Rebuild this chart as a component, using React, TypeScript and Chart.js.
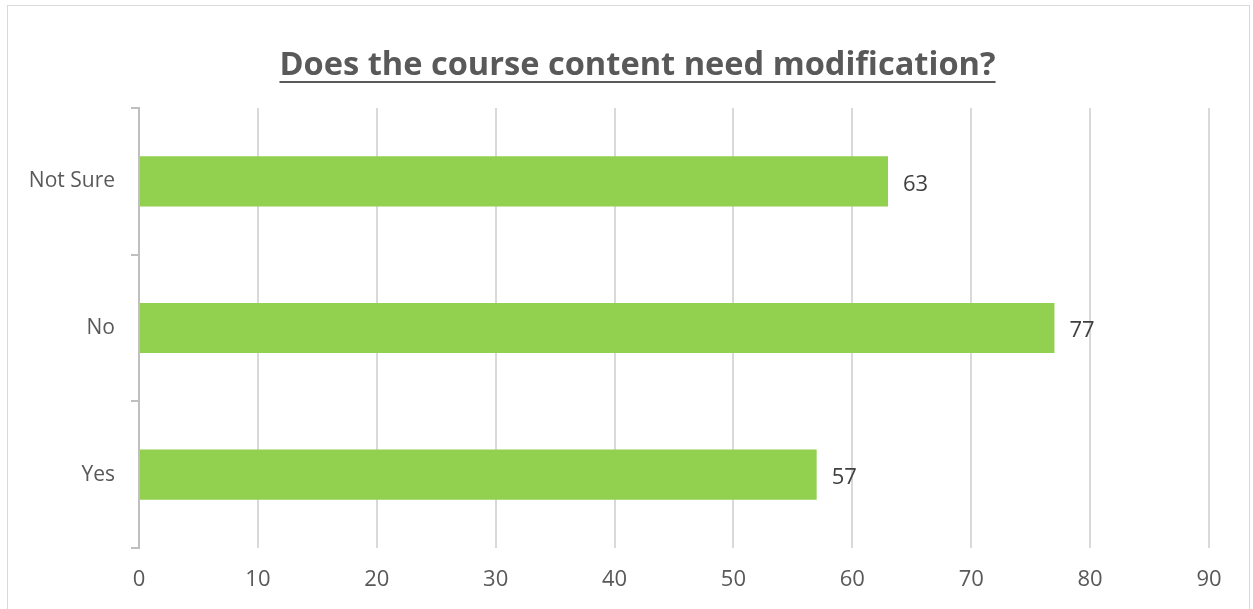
import React, { useEffect, useRef } from "react";
import { Chart, registerables } from "chart.js";

Chart.register(...registerables);

const TITLE = "Does the course content need modification?";
const CATEGORIES = ["Not Sure", "No", "Yes"];
const VALUES = [63, 77, 57];
const X_MIN = 0;
const X_MAX = 90;
const X_STEP = 10;

const FONT = "'Open Sans', 'Noto Sans', sans-serif";
const TEXT_COLOR = "#595959";

const titlePlugin = {
  id: "underlinedTitle",
  afterDraw(chart: any) {
    const ctx = chart.ctx;
    ctx.save();
    ctx.font = `bold 32.6px ${FONT}`;
    ctx.fillStyle = TEXT_COLOR;
    ctx.textAlign = "center";
    ctx.textBaseline = "alphabetic";
    const cx = chart.width / 2 + 9;
    const baseline = 69;
    ctx.fillText(TITLE, cx, baseline);
    const w = ctx.measureText(TITLE).width;
    ctx.strokeStyle = TEXT_COLOR;
    ctx.lineWidth = 2;
    ctx.beginPath();
    ctx.moveTo(cx - w / 2, baseline + 7);
    ctx.lineTo(cx + w / 2, baseline + 7);
    ctx.stroke();
    ctx.restore();
  },
};

const valueLabelPlugin = {
  id: "valueLabels",
  afterDatasetsDraw(chart: any) {
    const ctx = chart.ctx;
    ctx.save();
    ctx.font = `22px ${FONT}`;
    ctx.fillStyle = "#404040";
    ctx.textAlign = "left";
    ctx.textBaseline = "middle";
    chart.data.datasets.forEach((ds: any, di: number) => {
      const meta = chart.getDatasetMeta(di);
      meta.data.forEach((bar: any, i: number) => {
        ctx.fillText(String(ds.data[i]), bar.x + 15, bar.y + 3);
      });
    });
    ctx.restore();
  },
};

export default function App() {
  const ref = useRef<HTMLCanvasElement>(null);
  useEffect(() => {
    if (!ref.current) return;
    const chart = new Chart(ref.current, {
      type: "bar",
      data: {
        labels: CATEGORIES,
        datasets: [
          {
            data: VALUES,
            backgroundColor: "#92d050",
            borderWidth: 0,
            categoryPercentage: 1,
            barPercentage: 0.342,
          },
        ],
      },
      options: {
        indexAxis: "y",
        animation: false,
        responsive: false,
        devicePixelRatio: 1,
        layout: { padding: { top: 102, right: 40, bottom: 0, left: 0 } },
        plugins: {
          legend: { display: false },
          title: { display: false },
          tooltip: { enabled: false },
        },
        scales: {
          x: {
            min: X_MIN,
            max: X_MAX,
            ticks: {
              stepSize: X_STEP,
              color: TEXT_COLOR,
              font: { family: FONT, size: 22 },
              padding: 19,
            },
            grid: { color: "#d9d9d9", lineWidth: 2, drawTicks: false },
            border: { display: false },
            afterFit: (s: any) => {
              s.height = 62;
            },
          },
          y: {
            ticks: {
              color: TEXT_COLOR,
              font: { family: FONT, size: 21 },
              padding: 16,
            },
            grid: {
              drawOnChartArea: false,
              drawTicks: true,
              tickLength: 8,
              color: "#bfbfbf",
              lineWidth: 2,
              offset: true,
            },
            border: { display: true, color: "#bfbfbf", width: 2 },
            afterFit: (s: any) => {
              s.width = 131;
            },
          },
        },
      },
      plugins: [titlePlugin, valueLabelPlugin],
    });
    return () => chart.destroy();
  }, []);

  return (
    <div
      style={{
        position: "absolute",
        left: 7,
        top: 5,
        width: 1241,
        height: 700,
        border: "1px solid #d9d9d9",
        background: "#fff",
      }}
    >
      <canvas ref={ref} width={1241} height={604} style={{ display: "block" }} />
    </div>
  );
}
